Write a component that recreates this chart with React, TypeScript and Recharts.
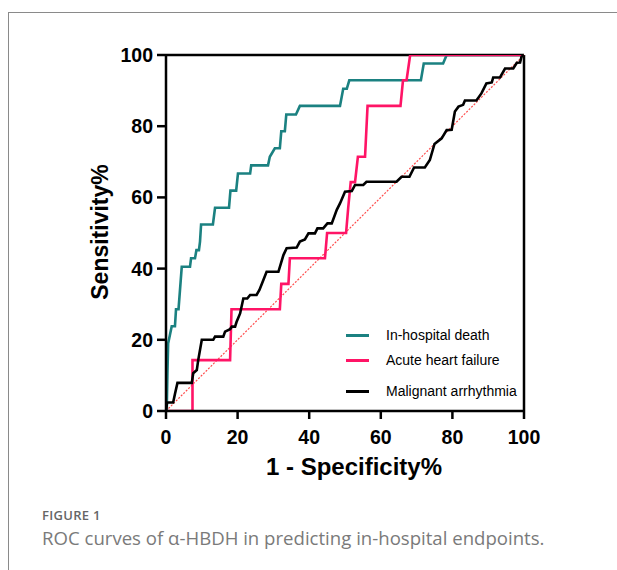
import React from 'react';
import { LineChart, Line, XAxis, YAxis, ReferenceLine } from 'recharts';

// ROC points (1 - specificity %, sensitivity %)
const deathFpr = [0, 0.2, 0.4, 0.6, 1.6, 2.5, 2.8, 3.5, 4.4, 6.7, 7, 8.1, 8.5, 9.2, 9.5, 9.8, 13.1, 13.7, 17.6, 18, 19.6, 20.1, 23.5, 23.8, 28.5, 29, 30.4, 31.8, 32.2, 33.2, 33.6, 36.3, 37.4, 48.6, 49.5, 50.5, 51.2, 71.2, 72, 77.4, 78.4, 100];
const deathTpr = [0, 0, 10.7, 19, 23.8, 23.8, 28.6, 28.6, 40.5, 40.5, 42.9, 42.9, 45.2, 45.2, 47.6, 52.4, 52.4, 57.1, 57.1, 61.9, 61.9, 66.7, 66.7, 69, 69, 71.4, 73.8, 73.8, 78.6, 78.6, 83.3, 83.3, 85.7, 85.7, 90.5, 90.5, 92.9, 92.9, 97.6, 97.6, 100, 100];

const ahfFpr = [0, 7.4, 7.4, 17.9, 18.3, 31.8, 32.2, 34.2, 34.6, 44.4, 45, 50.3, 50.9, 51.6, 52.8, 53.6, 55.6, 56.3, 65.5, 66.2, 67.2, 68.2, 100];
const ahfTpr = [0, 0, 14.3, 14.3, 28.6, 28.6, 35.7, 35.7, 42.9, 42.9, 50, 50, 57.1, 64.3, 64.3, 71.4, 71.4, 85.7, 85.7, 92.9, 92.9, 100, 100];

const arrFpr = [0, 0.3, 2, 2.5, 3.2, 7.2, 7.6, 8.6, 9, 10, 13.2, 13.7, 16, 16.5, 17.9, 18.4, 19.3, 19.7, 20.7, 21.6, 22.7, 23.5, 25.3, 26.1, 27.2, 28.1, 31.4, 32.8, 33.7, 36.5, 37.4, 38.8, 39.8, 41.6, 42.3, 43.9, 45.1, 46.3, 47.7, 48.6, 50, 51.9, 52.8, 55.1, 56, 64.4, 65.8, 68, 69.3, 72.3, 73.7, 75, 77, 78.4, 79.8, 80.7, 81.7, 83, 83.5, 86.7, 88.1, 89.5, 91, 91.4, 93.3, 94.7, 97, 98, 98.9, 99.3, 100];
const arrTpr = [0, 2.4, 2.4, 4.8, 7.9, 7.9, 10.6, 11.5, 14.3, 20, 20, 20.9, 20.9, 22.3, 23, 23.7, 23.7, 25, 27.4, 31.6, 31.6, 32.6, 32.6, 34, 36.8, 39.1, 39.1, 43.8, 45.7, 45.9, 47.6, 48.2, 49.9, 49.9, 51.3, 51.3, 52.7, 52.7, 56.5, 58.3, 61.6, 61.8, 63.5, 63.5, 64.4, 64.4, 65.8, 65.8, 68.4, 68.4, 70.5, 75, 76.6, 78.9, 79, 84.1, 85.5, 86, 87.2, 87.2, 89.2, 92, 92.3, 93.7, 93.7, 96.2, 96.2, 97.8, 97.9, 99.5, 100];

const seriesNames = ['In-hospital death', 'Acute heart failure', 'Malignant arrhythmia'];
const axisTicks = [0, 20, 40, 60, 80, 100];

const toPoints = (xs: number[], ys: number[]) => xs.map((x, i) => ({ x, y: ys[i] }));

const COLORS = ['#1b8181', '#ff1466', '#000000'];
const BOLD = { fontFamily: '"Liberation Sans", Arial, sans-serif', fontWeight: 700 };

// legend sits inside the plot, lower right
const LegendBox = () => {
  const rowY = [325, 350, 381];
  return (
    <>
      {seriesNames.map((name, i) => (
        <div key={name} style={{ position: 'absolute', left: 346, top: rowY[i], height: 20, display: 'flex', alignItems: 'center', fontFamily: '"Liberation Sans", Arial, sans-serif', fontSize: 14 }}>
          <div style={{ width: 23, height: 3, background: COLORS[i] }} />
          <span style={{ marginLeft: 17, color: '#000', whiteSpace: 'nowrap' }}>{name}</span>
        </div>
      ))}
    </>
  );
};

export default function App() {
  const series = [
    toPoints(deathFpr, deathTpr),
    toPoints(ahfFpr, ahfTpr),
    toPoints(arrFpr, arrTpr),
  ];

  return (
    <div style={{ position: 'absolute', left: 0, top: 0, width: 617, height: 570, background: '#fff', overflow: 'hidden' }}>
      <div style={{ position: 'absolute', left: 8, top: 12, width: 640, height: 600, borderLeft: '1px solid #8a8a8a', borderTop: '1px solid #8a8a8a' }} />
      <div style={{ position: 'absolute', left: 0, top: 0 }}>
        <LineChart width={617} height={570} margin={{ top: 55, right: 93, left: 106, bottom: 119 }}>
          <XAxis
            type="number"
            dataKey="x"
            domain={[0, 100]}
            ticks={axisTicks}
            height={40}
            tickSize={8}
            axisLine={{ stroke: '#000', strokeWidth: 2.5 }}
            tickLine={{ stroke: '#000', strokeWidth: 2.5 }}
            tick={{ fill: '#000', fontSize: 19.5, dy: 9, ...BOLD }}
            allowDataOverflow
          />
          <YAxis
            type="number"
            dataKey="y"
            domain={[0, 100]}
            ticks={axisTicks}
            width={60}
            tickSize={9}
            axisLine={{ stroke: '#000', strokeWidth: 2.5 }}
            tickLine={{ stroke: '#000', strokeWidth: 2.5 }}
            tick={{ fill: '#000', fontSize: 19.5, dx: -2, ...BOLD }}
            allowDataOverflow
          />
          <ReferenceLine y={100} stroke="#000" strokeWidth={2.5} />
          <ReferenceLine x={100} stroke="#000" strokeWidth={2.5} />
          <ReferenceLine
            segment={[{ x: 0, y: 0 }, { x: 100, y: 100 }]}
            stroke="#ff4d4d"
            strokeWidth={1.2}
            strokeDasharray="2 1.5"
          />
          {series.map((pts, i) => (
            <Line
              key={seriesNames[i]}
              name={seriesNames[i]}
              data={pts}
              dataKey="y"
              type="linear"
              stroke={COLORS[i]}
              strokeWidth={2.6}
              dot={false}
              activeDot={false}
              isAnimationActive={false}
            />
          ))}
        </LineChart>
      </div>
      <LegendBox />
      <div style={{ position: 'absolute', left: 354, top: 467, transform: 'translate(-50%, -50%)', fontSize: 24, whiteSpace: 'nowrap', color: '#000', ...BOLD }}>
        1 - Specificity%
      </div>
      <div style={{ position: 'absolute', left: 100, top: 232, transform: 'translate(-50%, -50%) rotate(-90deg)', fontSize: 23, whiteSpace: 'nowrap', color: '#000', ...BOLD }}>
        Sensitivity%
      </div>
      <div style={{ position: 'absolute', left: 42, top: 506, fontFamily: '"Open Sans", sans-serif', fontSize: 13, fontWeight: 600, color: '#666', letterSpacing: 0.3 }}>
        FIGURE 1
      </div>
      <div style={{ position: 'absolute', left: 42, top: 525, fontFamily: '"Open Sans", sans-serif', fontSize: 18.6, fontWeight: 400, color: '#7a7a7a', whiteSpace: 'nowrap' }}>
        ROC curves of α-HBDH in predicting in-hospital endpoints.
      </div>
    </div>
  );
}
